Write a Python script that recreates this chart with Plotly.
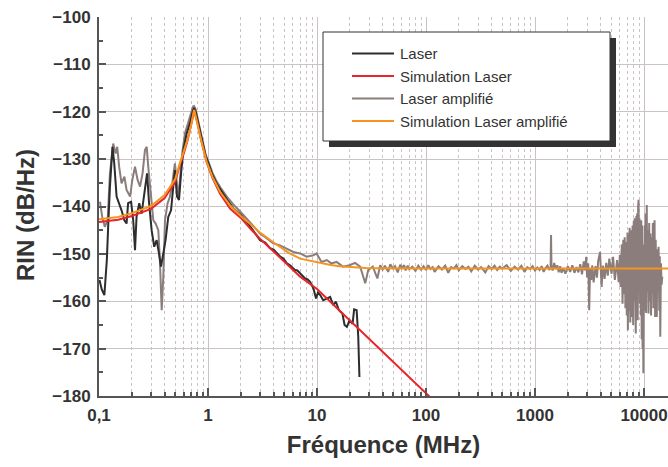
import plotly.graph_objects as go

# ---- data (frequency in MHz, RIN in dB/Hz) ----
laser_f = [0.101, 0.106, 0.112, 0.118, 0.122, 0.126, 0.133, 0.138, 0.145, 0.153,
           0.161, 0.171, 0.179, 0.185, 0.197, 0.206, 0.214, 0.221, 0.234, 0.246,
           0.264, 0.276, 0.288, 0.304, 0.321, 0.338, 0.355, 0.370, 0.389, 0.408,
           0.432, 0.458, 0.480, 0.497, 0.519, 0.542, 0.566, 0.594, 0.637, 0.683,
           0.72, 0.745, 0.77, 0.8, 0.85, 0.9, 0.95, 1.0, 1.1, 1.2,
           1.3, 1.5, 1.7, 2.0, 2.3, 2.6, 3.0, 3.35, 3.7, 4.0,
           4.27, 4.6, 4.91, 5.3, 5.65, 6.0, 6.28, 6.6, 6.98, 7.4,
           7.77, 8.2, 8.64, 9.27, 9.8, 10.2, 10.7, 11.4, 12.3, 13.2,
           14.1, 14.9, 15.9, 17.1, 17.9, 18.8, 19.9, 21.2, 21.9, 23.1,
           23.9, 24.5]
laser_rin = [-155.5, -157.5, -158.7, -151.3, -143.0, -135.8, -127.4, -130.9, -137.9, -139.3,
             -140.8, -142.9, -143.6, -139.3, -139.0, -142.9, -149.2, -142.2, -139.3, -141.5,
             -135.8, -133.0, -139.3, -145.0, -148.5, -147.1, -149.9, -152.7, -149.9, -147.1,
             -142.2, -140.8, -135.8, -132.3, -137.9, -138.6, -133.0, -128.1, -124.6, -122.4,
             -120.2, -119.2, -120.0, -121.6, -124.6, -127.2, -129.3, -130.6, -133.4, -135.2,
             -136.5, -138.6, -140.3, -141.8, -143.4, -145.0, -147.1, -147.6, -148.8, -149.1,
             -149.9, -150.6, -151.0, -152.0, -152.4, -152.9, -153.4, -153.5, -154.1, -154.8,
             -155.2, -155.4, -155.9, -157.3, -159.4, -158.2, -158.7, -159.8, -159.4, -159.1,
             -160.8, -160.1, -161.9, -162.6, -165.0, -165.4, -164.0, -164.8, -161.7, -161.9,
             -167.5, -176.0]

sim_laser_f = [0.1, 0.15, 0.2, 0.3, 0.4, 0.5, 0.55, 0.6, 0.65, 0.7,
               0.73, 0.745, 0.76, 0.8, 0.85, 0.9, 0.97, 1.1, 1.29, 1.6,
               2.0, 2.5, 3.0, 4.0, 5.0, 7.0, 10, 15, 23, 38,
               60, 100, 150]
sim_laser_rin = [-143.3, -142.8, -142.0, -140.5, -138.2, -134.8, -131.3, -128.8, -126.0, -123.0,
                 -120.9, -119.7, -120.4, -122.4, -125.3, -127.7, -130.6, -134.0, -137.3, -140.5,
                 -142.4, -144.9, -146.8, -149.5, -151.6, -154.8, -157.4, -161.3, -165.4, -170.1,
                 -174.5, -179.4, -183.3]

amp_f = [0.102, 0.107, 0.113, 0.120, 0.126, 0.135, 0.142, 0.147, 0.153, 0.161,
         0.171, 0.179, 0.193, 0.202, 0.214, 0.226, 0.238, 0.251, 0.264, 0.274,
         0.283, 0.300, 0.315, 0.331, 0.350, 0.362, 0.376, 0.389, 0.403, 0.426,
         0.448, 0.470, 0.497, 0.515, 0.533, 0.553, 0.580, 0.614, 0.659, 0.70,
         0.73, 0.745, 0.77, 0.8, 0.85, 0.9, 0.95, 1.0, 1.1, 1.2,
         1.3, 1.5, 1.7, 2.0, 2.3, 2.6, 3.0, 3.45, 3.97, 4.58,
         5.27, 6.07, 6.98, 8.04, 9.27, 9.9, 11.0, 12.3, 13.5, 15.1,
         17.3, 19.9, 22.3, 24.9, 27.7, 29.5, 32.5, 35.8, 38, 40,
         42, 45, 47, 50, 52, 55, 58, 60, 63, 65,
         68, 70, 75, 80, 85, 90, 95, 100, 105, 110,
         115, 120, 130, 140, 150, 160, 170, 180, 190, 200,
         215, 230, 245, 260, 280, 300, 320, 350, 375, 400,
         425, 450, 475, 500, 550, 600, 650, 700, 750, 800,
         850, 900, 950, 1000, 1050, 1100, 1150, 1200, 1250, 1300,
         1350, 1390, 1403, 1415, 1450, 1500, 1550, 1600, 1650, 1700,
         1750, 1820, 1900, 2000, 2100, 2200, 2300, 2400, 2500, 2600,
         2700, 2800, 2876, 2950, 3005, 3080, 3140, 3200, 3280, 3350,
         3450, 3590, 3700, 3800, 3950, 4000, 4080, 4200, 4350, 4500,
         4650, 4800, 5040, 5200, 5400, 5660, 5850, 6000, 6100, 6250,
         6350, 6450, 6550, 6650, 6750, 6850, 6950, 7050, 7110, 7200,
         7300, 7380, 7480, 7580, 7680, 7770, 7850, 7950, 8050, 8110,
         8200, 8300, 8400, 8500, 8580, 8650, 8750, 8830, 8910, 9000,
         9080, 9170, 9260, 9350, 9430, 9520, 9600, 9700, 9780, 9860,
         9940, 10050, 10150, 10250, 10350, 10450, 10600, 10700, 10850, 11000,
         11150, 11300, 11450, 11600, 11750, 11900, 12050, 12200, 12350, 12500,
         12650, 12800, 12950, 13100, 13250, 13400, 13600, 13800, 13950, 14100,
         14300, 14500, 14700]
amp_rin = [-139.0, -142.2, -144.3, -142.9, -133.0, -126.7, -128.8, -127.4, -131.6, -135.1,
           -133.7, -136.5, -137.9, -134.4, -131.6, -134.4, -135.8, -133.0, -128.1, -127.4,
           -131.6, -137.2, -142.9, -143.6, -145.0, -151.3, -161.9, -154.8, -142.9, -139.3,
           -137.9, -135.1, -130.9, -134.4, -137.9, -134.4, -128.8, -124.6, -122.4, -120.5,
           -118.9, -118.8, -119.5, -121.2, -124.2, -126.9, -129.0, -130.3, -132.9, -134.7,
           -136.0, -138.0, -139.5, -141.2, -142.8, -144.2, -145.7, -146.7, -147.8, -148.2,
           -148.9, -149.6, -149.9, -150.6, -150.3, -149.9, -151.7, -151.3, -152.0, -151.7,
           -152.7, -152.4, -151.9, -152.7, -156.2, -153.4, -152.7, -155.2, -152.4, -153.3,
           -152.5, -153.8, -152.2, -153.1, -152.6, -153.9, -152.3, -153.0, -152.4, -153.5,
           -152.5, -153.2, -152.7, -153.6, -152.5, -153.3, -152.6, -153.4, -152.4, -153.2,
           -152.8, -153.8, -152.6, -153.3, -152.5, -154.0, -152.8, -153.1, -152.4, -153.5,
           -152.6, -153.2, -152.7, -153.7, -152.5, -153.3, -152.8, -153.9, -152.6, -153.2,
           -152.5, -153.4, -152.7, -153.1, -152.4, -153.6, -152.7, -153.3, -152.5, -153.8,
           -152.8, -153.2, -152.6, -153.5, -152.9, -153.4, -152.6, -153.8, -153.0, -152.5,
           -153.4, -152.8, -146.0, -152.6, -153.5, -151.9, -153.2, -152.4, -153.9, -152.6,
           -154.0, -153.0, -154.2, -152.6, -153.8, -152.4, -154.0, -152.8, -153.9, -152.2,
           -154.3, -151.6, -153.5, -150.6, -155.0, -152.0, -161.9, -153.0, -155.5, -152.4,
           -156.0, -152.6, -155.0, -151.5, -149.6, -154.5, -157.0, -152.5, -155.3, -151.9,
           -154.6, -151.0, -154.2, -150.6, -155.5, -151.3, -156.0, -150.2, -157.0, -148.0,
           -160.5, -147.0, -158.5, -146.5, -161.5, -147.5, -163.0, -145.5, -166.1, -146.0,
           -162.0, -144.5, -164.5, -145.0, -161.0, -163.3, -144.0, -165.0, -143.0, -160.0,
           -142.5, -163.5, -166.8, -142.0, -161.0, -141.5, -164.0, -140.0, -138.6, -158.0,
           -142.5, -160.5, -143.0, -163.0, -142.9, -168.0, -144.0, -170.0, -148.0, -175.2,
           -150.0, -162.0, -144.0, -160.0, -141.5, -162.5, -139.7, -158.0, -145.0, -162.6,
           -143.5, -160.0, -145.7, -163.0, -146.5, -158.3, -143.5, -161.5, -144.5, -142.9,
           -163.3, -147.0, -160.0, -163.3, -149.0, -158.0, -148.5, -162.0, -150.5, -167.5,
           -152.0, -156.5, -154.8]

sim_amp_f = [0.1, 0.15, 0.2, 0.3, 0.4, 0.5, 0.55, 0.6, 0.65, 0.7,
             0.73, 0.745, 0.76, 0.8, 0.85, 0.9, 0.97, 1.1, 1.29, 1.6,
             2.0, 2.5, 3.0, 4.0, 4.6, 5.5, 7.0, 10, 13, 16,
             20, 28, 38, 60, 100, 1000, 17000]
sim_amp_rin = [-142.7, -142.2, -141.4, -139.9, -137.6, -134.2, -131.0, -128.5, -125.8, -122.8,
               -120.8, -119.6, -120.3, -122.3, -125.2, -127.6, -130.5, -133.8, -136.9, -139.8,
               -142.0, -143.9, -145.5, -147.6, -148.6, -149.8, -151.0, -151.8, -152.3, -152.6,
               -152.8, -153.0, -153.05, -153.1, -153.1, -153.1, -153.1]

series_names = ["Laser", "Simulation Laser", "Laser amplifié", "Simulation Laser amplifié"]
series_colors = ["#2d2c2e", "#e8252b", "#8a7d7b", "#f7941d"]

x_tickvals = [0.1, 1, 10, 100, 1000, 10000]
x_ticktext = ["0,1", "1", "10", "100", "1000", "10000"]
y_tickvals = [-180, -170, -160, -150, -140, -130, -120, -110, -100]
x_minor = [k * 10 ** n for n in range(-1, 5) for k in range(2, 10)]

# ---- geometry (pixels of the 668x467 page) ----
W, H = 668, 467
L, R, T, B = 99, 0, 17, 71
PW, PH = W - L - R, H - T - B


def px(x):
    return (x - L) / PW


def py(y):
    return (H - B - y) / PH


FONT = "Liberation Sans, Arial, Helvetica, sans-serif"
DARK = "#333333"
GRID = "#cbc3c3"

fig = go.Figure()
data = [(laser_f, laser_rin), (sim_laser_f, sim_laser_rin), (amp_f, amp_rin), (sim_amp_f, sim_amp_rin)]
for i in [2, 0, 1, 3]:
    f, v = data[i]
    fig.add_trace(go.Scatter(
        x=f, y=v, mode="lines", name=series_names[i],
        line=dict(color=series_colors[i], width=2),
        showlegend=False,
    ))

# legend drawn by hand: shadow, box, sample lines, labels
bx0, bx1, by0, by1 = 323, 610, 32, 141
shapes = [
    dict(type="rect", xref="paper", yref="paper", layer="above",
         x0=px(bx0 + 6), x1=px(bx1 + 6), y0=py(by1 + 6), y1=py(by0 + 6),
         fillcolor=DARK, line=dict(width=0)),
    dict(type="rect", xref="paper", yref="paper", layer="above",
         x0=px(bx0), x1=px(bx1), y0=py(by1), y1=py(by0),
         fillcolor="white", line=dict(color=DARK, width=1)),
]
annotations = []
for i, name in enumerate(series_names):
    yc = 53.5 + i * 22.5
    shapes.append(dict(type="line", xref="paper", yref="paper", layer="above",
                       x0=px(352), x1=px(394), y0=py(yc), y1=py(yc),
                       line=dict(color=series_colors[i], width=2)))
    annotations.append(dict(xref="paper", yref="paper", x=px(398), y=py(yc),
                            xanchor="left", yanchor="middle", showarrow=False,
                            text=name, font=dict(family=FONT, size=15, color=DARK)))

# y axis title as a rotated annotation so it can sit closer to the page edge
annotations.append(dict(xref="paper", yref="paper", x=px(25), y=py(215),
                        xanchor="center", yanchor="middle", textangle=-90, showarrow=False,
                        text="RIN (dB/Hz)",
                        font=dict(family=FONT, size=24, color=DARK, weight="bold")))

fig.update_layout(
    width=W, height=H,
    margin=dict(l=L, r=R, t=T, b=B, pad=0),
    paper_bgcolor="white", plot_bgcolor="white",
    font=dict(family=FONT, color=DARK),
    shapes=shapes, annotations=annotations,
    xaxis=dict(
        type="log", range=[-1, 4.22], autorange=False, automargin=False,
        tickvals=x_tickvals, ticktext=x_ticktext,
        ticks="inside", ticklen=8, tickwidth=1.5, tickcolor="#555555",
        tickfont=dict(family=FONT, size=17, color=DARK, weight="bold"),
        ticklabelstandoff=3,
        showline=True, linecolor="#555555", linewidth=2,
        showgrid=True, gridcolor=GRID, gridwidth=1,
        zeroline=False,
        minor=dict(tickvals=x_minor, ticks="inside", ticklen=4, tickcolor="#555555",
                   showgrid=True, gridcolor="#c8c4c4", griddash="dot", gridwidth=1),
        title=dict(text="Fréquence (MHz)", standoff=12,
                   font=dict(family=FONT, size=24, color=DARK, weight="bold")),
    ),
    yaxis=dict(
        range=[-180, -100], autorange=False, automargin=False,
        tickvals=y_tickvals,
        ticks="inside", ticklen=7, tickwidth=1.5, tickcolor="#555555",
        tickfont=dict(family=FONT, size=17, color=DARK, weight="bold"),
        ticklabelstandoff=3,
        showline=True, linecolor="#555555", linewidth=2,
        showgrid=True, gridcolor=GRID, gridwidth=1,
        zeroline=False,
        minor=dict(dtick=5, ticks="inside", ticklen=4, tickcolor="#555555", showgrid=False),
    ),
)

fig.write_html("out.html", config={"displayModeBar": False},
               post_script="document.body.style.margin='0px'; document.body.style.overflow='hidden';")
